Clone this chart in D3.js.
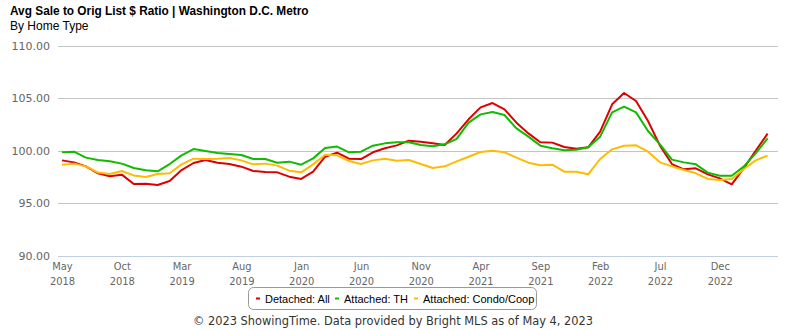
<!DOCTYPE html>
<html>
<head>
<meta charset="utf-8">
<script src="https://cdn.jsdelivr.net/npm/d3@7"></script>
<style>
  html, body { margin: 0; padding: 0; background: #fff; }
  svg { display: block; }
</style>
</head>
<body>
<svg id="chart" width="785" height="330"></svg>
<script>
// Monthly series, May 2018 through Apr 2023
const months = ["Jan","Feb","Mar","Apr","May","Jun","Jul","Aug","Sep","Oct","Nov","Dec"];
const periods = [];
for (let i = 0; i < 60; i++) {
  const m = (4 + i) % 12, y = 2018 + Math.floor((4 + i) / 12);
  periods.push(months[m] + " " + y);
}

const detachedAll = [
  99.06, 98.87, 98.49, 97.83, 97.54, 97.70, 96.81, 96.84, 96.71, 97.10,
  98.14, 98.81, 99.10, 98.84, 98.71, 98.46, 98.05, 97.95, 97.92, 97.51,
  97.29, 97.98, 99.41, 99.79, 99.22, 99.19, 99.83, 100.21, 100.49, 100.94,
  100.84, 100.68, 100.52, 101.63, 102.97, 104.11, 104.52, 103.92, 102.65, 101.63,
  100.78, 100.75, 100.33, 100.17, 100.30, 101.79, 104.40, 105.48, 104.71, 102.81,
  100.46, 98.71, 98.21, 98.30, 97.73, 97.35, 96.78, 98.30, 99.98, 101.60
];
const attachedTH = [
  99.83, 99.89, 99.32, 99.10, 98.97, 98.75, 98.33, 98.11, 98.02, 98.71,
  99.54, 100.14, 99.95, 99.76, 99.67, 99.57, 99.19, 99.19, 98.84, 98.94,
  98.65, 99.25, 100.24, 100.37, 99.83, 99.89, 100.46, 100.68, 100.78, 100.78,
  100.52, 100.40, 100.59, 101.10, 102.65, 103.44, 103.67, 103.38, 102.11, 101.32,
  100.46, 100.21, 100.02, 100.08, 100.30, 101.32, 103.63, 104.17, 103.63, 101.86,
  100.59, 99.13, 98.87, 98.68, 97.89, 97.60, 97.60, 98.46, 99.73, 101.16
];
const attachedCondo = [
  98.65, 98.75, 98.49, 97.90, 97.76, 98.05, 97.63, 97.48, 97.76, 97.83,
  98.68, 99.22, 99.19, 99.22, 99.29, 99.06, 98.68, 98.75, 98.56, 98.08,
  97.92, 98.68, 99.60, 99.54, 99.00, 98.71, 99.06, 99.22, 99.03, 99.10,
  98.71, 98.33, 98.49, 98.97, 99.41, 99.86, 99.98, 99.83, 99.32, 98.84,
  98.59, 98.65, 97.98, 97.98, 97.73, 99.19, 100.11, 100.46, 100.49, 99.89,
  98.87, 98.49, 98.14, 97.83, 97.29, 97.19, 97.29, 98.21, 99.06, 99.51
];

const seriesNames = ["Detached: All", "Attached: TH", "Attached: Condo/Coop"];
const seriesColors = ["#dd0000", "#11bb00", "#ffbb00"];
const yTicks = [90, 95, 100, 105, 110];
const xTickEvery = 5;

const series = [detachedAll, attachedTH, attachedCondo];

const svg = d3.select("#chart");
const plotLeft = 58, plotRight = 778, plotTop = 45.5, plotBottom = 255.5;

const x = d3.scalePoint().domain(periods).range([62, 767.6]);
const y = d3.scaleLinear().domain([90, 110]).range([plotBottom, plotTop]);

// Title block
svg.append("text")
  .attr("x", 10).attr("y", 15)
  .attr("font-family", "Liberation Sans, Arial, sans-serif")
  .attr("font-size", 11.85).attr("font-weight", "bold").attr("fill", "#000")
  .text("Avg Sale to Orig List $ Ratio | Washington D.C. Metro");
svg.append("text")
  .attr("x", 10).attr("y", 30)
  .attr("font-family", "Liberation Sans, Arial, sans-serif")
  .attr("font-size", 12).attr("fill", "#000")
  .text("By Home Type");

// Horizontal gridlines
svg.append("g")
  .selectAll("line")
  .data(yTicks.filter(d => d !== 90))
  .join("line")
  .attr("x1", plotLeft).attr("x2", plotRight)
  .attr("y1", d => Math.round(y(d)) + 0.5).attr("y2", d => Math.round(y(d)) + 0.5)
  .attr("stroke", "#c4c4c4").attr("stroke-width", 1);

// Y axis labels
const yAxis = d3.axisLeft(y).tickValues(yTicks).tickFormat(d3.format(".2f")).tickSize(0).tickPadding(8);
const gy = svg.append("g").attr("transform", `translate(${plotLeft},0)`).call(yAxis);
gy.select(".domain").remove();
gy.selectAll("text")
  .attr("font-family", "DejaVu Sans, sans-serif")
  .attr("font-size", 11).attr("fill", "#666");

// X axis
const xAxis = d3.axisBottom(x)
  .tickValues(periods.filter((d, i) => i % xTickEvery === 0))
  .tickSize(0).tickPadding(0);
const gx = svg.append("g").attr("transform", `translate(0,${Math.round(plotBottom) + 0.5})`).call(xAxis);
gx.select(".domain")
  .attr("d", `M${plotLeft},0H${plotRight}`)
  .attr("stroke", "#c0d0e0");
gx.selectAll("text").each(function(d) {
  const parts = d.split(" ");
  const t = d3.select(this).text(null)
    .attr("font-family", "DejaVu Sans Condensed, DejaVu Sans, sans-serif")
    .attr("font-size", 11).attr("fill", "#666").attr("y", 0).attr("dy", null);
  t.append("tspan").attr("x", 0).attr("y", 13).text(parts[0]);
  t.append("tspan").attr("x", 0).attr("y", 28).text(parts[1]);
});

// Series lines
const line = d3.line().x((d, i) => x(periods[i])).y(d => y(d));
svg.append("g")
  .selectAll("path")
  .data(series)
  .join("path")
  .attr("d", d => line(d))
  .attr("fill", "none")
  .attr("stroke", (d, i) => seriesColors[i])
  .attr("stroke-width", 2)
  .attr("stroke-linejoin", "round");

// Legend
const legend = svg.append("g");
legend.append("rect")
  .attr("x", 248.5).attr("y", 287.5).attr("width", 288).attr("height", 22)
  .attr("rx", 5).attr("fill", "#fff").attr("stroke", "#999");
const legendX = [256, 335, 414];
seriesNames.forEach((name, i) => {
  const g = legend.append("g").attr("transform", `translate(${legendX[i]},0)`);
  g.append("line").attr("x1", 0).attr("x2", 4).attr("y1", 298.5).attr("y2", 298.5)
    .attr("stroke", seriesColors[i]).attr("stroke-width", 2);
  g.append("text").attr("x", 9).attr("y", 302.5)
    .attr("font-family", "Liberation Sans, Arial, sans-serif")
    .attr("font-size", 11).attr("fill", "#000")
    .text(name);
});

// Footer
svg.append("text")
  .attr("x", 393).attr("y", 325).attr("text-anchor", "middle")
  .attr("font-family", "DejaVu Sans, sans-serif")
  .attr("font-size", 11.4).attr("fill", "#333")
  .text("© 2023 ShowingTime. Data provided by Bright MLS as of May 4, 2023");
</script>
</body>
</html>
